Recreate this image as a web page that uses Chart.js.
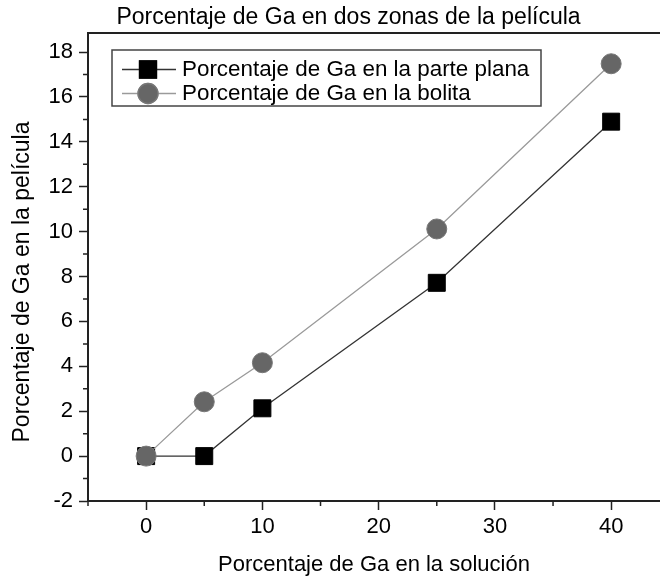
<!DOCTYPE html>
<html lang="es">
<head>
    <meta charset="UTF-8">
    <title>Porcentaje de Ga</title>
    <script src="https://cdn.jsdelivr.net/npm/chart.js"></script>
    <style>
        html, body {
            margin: 0;
            padding: 0;
            background: #fff;
            overflow: hidden;
        }
        #wrap {
            width: 697px;
            height: 584px;
        }
    </style>
</head>
<body>
    <div id="wrap">
        <canvas id="gaChart"></canvas>
    </div>

    <script>
        // Datos: porcentaje de Ga en la solución (eje x) y en la película (eje y)
        const solucion = [0, 5, 10, 25, 40];
        const partePlana = [0, 0, 2.13, 7.72, 14.9];
        const bolita = [0, 2.42, 4.16, 10.12, 17.48];

        const xMajor = [0, 10, 20, 30, 40];
        const yMajor = [-2, 0, 2, 4, 6, 8, 10, 12, 14, 16, 18];

        const labelPlana = 'Porcentaje de Ga en la parte plana';
        const labelBolita = 'Porcentaje de Ga en la bolita';
        const tituloY = 'Porcentaje de Ga en la película';

        const FONT = 'Arial, "Liberation Sans", sans-serif';
        const AXIS = '#222';

        // marcas menores, título del eje y y leyenda
        const extras = {
            id: 'extras',
            afterDraw(chart) {
                const ctx = chart.ctx;
                const xs = chart.scales.x, ys = chart.scales.y;
                const area = chart.chartArea;
                ctx.save();
                ctx.strokeStyle = AXIS;
                ctx.lineWidth = 1.5;
                ctx.beginPath();
                for (let v = -5; v <= 44; v += 10) {
                    const px = xs.getPixelForValue(v);
                    ctx.moveTo(px, area.bottom);
                    ctx.lineTo(px, area.bottom + 5);
                }
                for (let v = -1; v <= 18; v += 2) {
                    const py = ys.getPixelForValue(v);
                    ctx.moveTo(area.left, py);
                    ctx.lineTo(area.left - 5, py);
                }
                ctx.stroke();

                // título del eje y (girado)
                ctx.save();
                ctx.translate(23, 282);
                ctx.rotate(-Math.PI / 2);
                ctx.fillStyle = '#000';
                ctx.font = '23px ' + FONT;
                ctx.textAlign = 'center';
                ctx.textBaseline = 'middle';
                ctx.fillText(tituloY, 0, 0);
                ctx.restore();

                // leyenda dentro del área del gráfico
                const bx = 112, by = 50, bw = 429, bh = 56;
                ctx.lineWidth = 1.5;
                ctx.strokeStyle = '#444';
                ctx.strokeRect(bx, by, bw, bh);
                const rows = [
                    { ds: chart.data.datasets[0], y: 69.5 },
                    { ds: chart.data.datasets[1], y: 93.5 }
                ];
                rows.forEach(r => {
                    ctx.strokeStyle = r.ds.borderColor;
                    ctx.lineWidth = r.ds.borderWidth;
                    ctx.beginPath();
                    ctx.moveTo(122, r.y);
                    ctx.lineTo(176, r.y);
                    ctx.stroke();
                    Chart.helpers.drawPoint(ctx, {
                        pointStyle: r.ds.pointStyle,
                        radius: r.ds.pointRadius,
                        borderWidth: 1
                    }, 148, r.y);
                    ctx.fillStyle = r.ds.pointBackgroundColor;
                    ctx.strokeStyle = r.ds.pointBorderColor;
                    ctx.fill();
                    ctx.stroke();
                    ctx.fillStyle = '#000';
                    ctx.font = '22.4px ' + FONT;
                    ctx.textBaseline = 'middle';
                    ctx.textAlign = 'left';
                    ctx.fillText(r.ds.label, 182, r.y);
                });
                ctx.restore();
            }
        };

        const ctx = document.getElementById('gaChart').getContext('2d');
        new Chart(ctx, {
            type: 'scatter',
            data: {
                datasets: [
                    {
                        label: labelPlana,
                        data: solucion.map((x, i) => ({ x: x, y: partePlana[i] })),
                        showLine: true,
                        borderColor: '#333',
                        borderWidth: 1.3,
                        pointStyle: 'rect',
                        pointRadius: 12,
                        pointBackgroundColor: '#000',
                        pointBorderColor: '#000',
                        pointBorderWidth: 1,
                        order: 1
                    },
                    {
                        label: labelBolita,
                        data: solucion.map((x, i) => ({ x: x, y: bolita[i] })),
                        showLine: true,
                        borderColor: '#9a9a9a',
                        borderWidth: 1.3,
                        pointStyle: 'circle',
                        pointRadius: 10,
                        pointBackgroundColor: '#666',
                        pointBorderColor: '#777',
                        pointBorderWidth: 1,
                        order: 0
                    }
                ]
            },
            options: {
                responsive: true,
                maintainAspectRatio: false,
                animation: false,
                layout: { padding: 0 },
                plugins: {
                    legend: { display: false },
                    tooltip: { enabled: false },
                    title: {
                        display: true,
                        text: 'Porcentaje de Ga en dos zonas de la película',
                        color: '#000',
                        font: { family: FONT, size: 23, weight: 'normal' },
                        padding: { top: 3.4, bottom: 2 }
                    }
                },
                scales: {
                    x: {
                        type: 'linear',
                        position: 'bottom',
                        min: -5,
                        max: 44.2,
                        afterBuildTicks: s => { s.ticks = xMajor.map(v => ({ value: v })); },
                        afterFit: s => { s.height = 83; },
                        ticks: {
                            color: '#000',
                            font: { family: FONT, size: 22 },
                            padding: 4
                        },
                        grid: {
                            display: true,
                            drawOnChartArea: false,
                            drawTicks: true,
                            tickLength: 9,
                            tickWidth: 1.5,
                            tickColor: AXIS
                        },
                        border: { display: true, color: AXIS, width: 2 },
                        title: {
                            display: true,
                            text: 'Porcentaje de Ga en la solución',
                            color: '#000',
                            font: { family: FONT, size: 22 },
                            padding: { top: 0, bottom: 6 }
                        }
                    },
                    xTop: {
                        type: 'linear',
                        position: 'top',
                        min: -5,
                        max: 44.2,
                        ticks: { display: false },
                        grid: { display: false, drawTicks: false },
                        border: { display: true, color: AXIS, width: 2 }
                    },
                    y: {
                        type: 'linear',
                        position: 'left',
                        min: -2,
                        max: 18.85,
                        afterBuildTicks: s => { s.ticks = yMajor.map(v => ({ value: v })); },
                        afterFit: s => { s.width = 88; },
                        ticks: {
                            color: '#000',
                            font: { family: FONT, size: 22 },
                            padding: 6
                        },
                        grid: {
                            display: true,
                            drawOnChartArea: false,
                            drawTicks: true,
                            tickLength: 9,
                            tickWidth: 1.5,
                            tickColor: AXIS
                        },
                        border: { display: true, color: AXIS, width: 2 }
                    },
                    // eje derecho vacío: reserva el margen que queda fuera de la ventana
                    yRight: {
                        type: 'linear',
                        position: 'right',
                        min: -2,
                        max: 18.85,
                        afterFit: s => { s.width = 37; },
                        ticks: { display: false },
                        grid: { display: false, drawTicks: false },
                        border: { display: false }
                    }
                }
            },
            plugins: [extras]
        });
    </script>
</body>
</html>
